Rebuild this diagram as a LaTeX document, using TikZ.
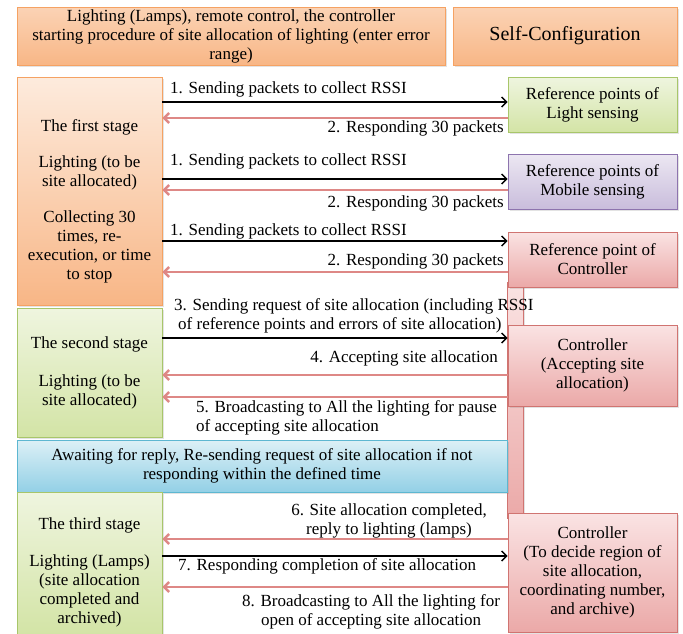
\documentclass[tikz,border=0pt]{standalone}
\usepackage{fontspec}
\setmainfont{Liberation Serif}
\usetikzlibrary{arrows.meta,shadows}
\definecolor{orD}{HTML}{F5A263}
\definecolor{orT}{HTML}{FBD3B5}
\definecolor{orM}{HTML}{F8B686}
\definecolor{orL}{HTML}{FDEBDD}
\definecolor{grD}{HTML}{A8C66A}
\definecolor{grT}{HTML}{EFF5DF}
\definecolor{grM}{HTML}{D3E4A6}
\definecolor{puD}{HTML}{8D74AE}
\definecolor{puT}{HTML}{ECE7F2}
\definecolor{puM}{HTML}{C9BDDC}
\definecolor{rdD}{HTML}{D07471}
\definecolor{rdT}{HTML}{FAE3E3}
\definecolor{rdM}{HTML}{EBA9A8}
\definecolor{blD}{HTML}{5DB7D1}
\definecolor{blT}{HTML}{DCF0F6}
\definecolor{blM}{HTML}{93D0E6}
\definecolor{retc}{HTML}{DE8886}
\begin{document}
\begin{tikzpicture}[x=1pt,y=-1pt,
  box/.style={draw, line width=0.9pt, inner sep=0pt, align=center,
    font=\fontsize{17}{19}\selectfont,
    drop shadow={shadow xshift=1.5pt, shadow yshift=-1.8pt, opacity=0.22}},
  orangebox/.style={box, draw=orD, top color=orT, bottom color=orM},
  stageone/.style={box, draw=orD, top color=orL, bottom color=orM},
  greenbox/.style={box, draw=grD, top color=grT, bottom color=grM},
  purplebox/.style={box, draw=puD, top color=puT, bottom color=puM},
  redbox/.style={box, draw=rdD, top color=rdT, bottom color=rdM},
  bluebox/.style={box, draw=blD, top color=blT, bottom color=blM},
  txt/.style={inner sep=0pt, align=center, font=\fontsize{17}{19}\selectfont},
  lbl/.style={inner sep=0pt, font=\fontsize{17}{19}\selectfont},
  fwd/.style={draw=black, line width=1.4pt, -{Straight Barb[length=5pt,width=10pt]}},
  bwd/.style={draw=retc, line width=2.4pt, -{Straight Barb[length=5pt,width=10pt]}},
]
\useasboundingbox (0,0) rectangle (683,633);
% header boxes
\node[orangebox, minimum width=428pt, minimum height=58pt] (top1) at (231,36)
  {Lighting (Lamps), remote control, the controller\\starting procedure of site allocation of lighting (enter error\\range)};
\node[orangebox, minimum width=224pt, minimum height=58pt, font=\fontsize{20}{22}\selectfont] (top2) at (565,36) {Self-Configuration};
% vertical bar
\node[redbox, minimum width=16pt, minimum height=236pt] (bar) at (515,400) {};
% left stage boxes
\node[stageone, minimum width=145pt, minimum height=228pt] (stage1) at (89.5,191) {};
\node[txt] (t1) at (89.5,201.5) {The first stage\\[17pt]Lighting (to be\\site allocated)\\[17pt]Collecting 30\\times, re-\\execution, or time\\to stop};
\node[greenbox, minimum width=145pt, minimum height=129pt] (stage2) at (89.5,372.5)
  {The second stage\\[19pt]Lighting (to be\\site allocated)};
\node[bluebox, minimum width=490pt, minimum height=52pt] (blue) at (262,466)
  {Awaiting for reply, Re-sending request of site allocation if not\\responding within the defined time};
\node[greenbox, minimum width=145pt, minimum height=142pt] (stage3) at (89.5,563) {};
\node[txt] (t3) at (89.5,572) {The third stage\\[18pt]Lighting (Lamps)\\(site allocation\\completed and\\archived)};
% right boxes
\node[greenbox, minimum width=169pt, minimum height=55pt] (ref1) at (592.5,104.5) {Reference points of\\Light sensing};
\node[purplebox, minimum width=169pt, minimum height=55pt] (ref2) at (592.5,181.5) {Reference points of\\Mobile sensing};
\node[redbox, minimum width=169pt, minimum height=55pt] (ref3) at (592.5,259.5) {Reference point of\\Controller};
\node[redbox, minimum width=169pt, minimum height=81pt] (ctrl1) at (592.5,365.5) {Controller\\(Accepting site\\allocation)};
\node[redbox, minimum width=169pt, minimum height=119pt] (ctrl2) at (592.5,572.5) {Controller\\(To decide region of\\site allocation,\\coordinating number,\\and archive)};
% connectors
\draw[fwd] (stage1.east |- 0,102) -- (ref1.west |- 0,102);
\draw[bwd] (ref1.west |- 0,118) -- (stage1.east |- 0,118);
\draw[fwd] (stage1.east |- 0,179) -- (ref2.west |- 0,179);
\draw[bwd] (ref2.west |- 0,190) -- (stage1.east |- 0,190);
\draw[fwd] (stage1.east |- 0,241) -- (ref3.west |- 0,241);
\draw[bwd] (ref3.west |- 0,272) -- (stage1.east |- 0,272);
\draw[fwd] (stage2.east |- 0,338) -- (ctrl1.west |- 0,338);
\draw[bwd] (ctrl1.west |- 0,375) -- (stage2.east |- 0,375);
\draw[bwd] (ctrl1.west |- 0,397) -- (stage2.east |- 0,397);
\draw[bwd] (ctrl2.west |- 0,539) -- (stage3.east |- 0,539);
\draw[fwd] (stage3.east |- 0,556) -- (ctrl2.west |- 0,556);
\draw[bwd] (ctrl2.west |- 0,587) -- (stage3.east |- 0,587);
% labels
\node[lbl, anchor=west] (l1a) at (170,89) {1. Sending packets to collect RSSI};
\node[lbl, anchor=east] (l2a) at (504,128) {2. Responding 30 packets};
\node[lbl, anchor=west] (l1b) at (170,161) {1. Sending packets to collect RSSI};
\node[lbl, anchor=east] (l2b) at (504,203) {2. Responding 30 packets};
\node[lbl, anchor=west] (l1c) at (170,231) {1. Sending packets to collect RSSI};
\node[lbl, anchor=east] (l2c) at (504,261) {2. Responding 30 packets};
\node[lbl, anchor=west, align=left] (l3) at (174,316) {3. Sending request of site allocation (including RSSI\\\hspace*{4pt}of reference points and errors of site allocation)};
\node[lbl, anchor=east] (l4) at (498,358) {4. Accepting site allocation};
\node[lbl, anchor=west, align=left] (l5) at (196,418) {5. Broadcasting to All the lighting for pause\\of accepting site allocation};
\node[lbl, align=center] (l6) at (389,521) {6. Site allocation completed,\\reply to lighting (lamps)};
\node[lbl, anchor=west] (l7) at (178,566) {7. Responding completion of site allocation};
\node[lbl, align=center] (l8) at (371,612) {8. Broadcasting to All the lighting for\\open of accepting site allocation};
\end{tikzpicture}
\end{document}
